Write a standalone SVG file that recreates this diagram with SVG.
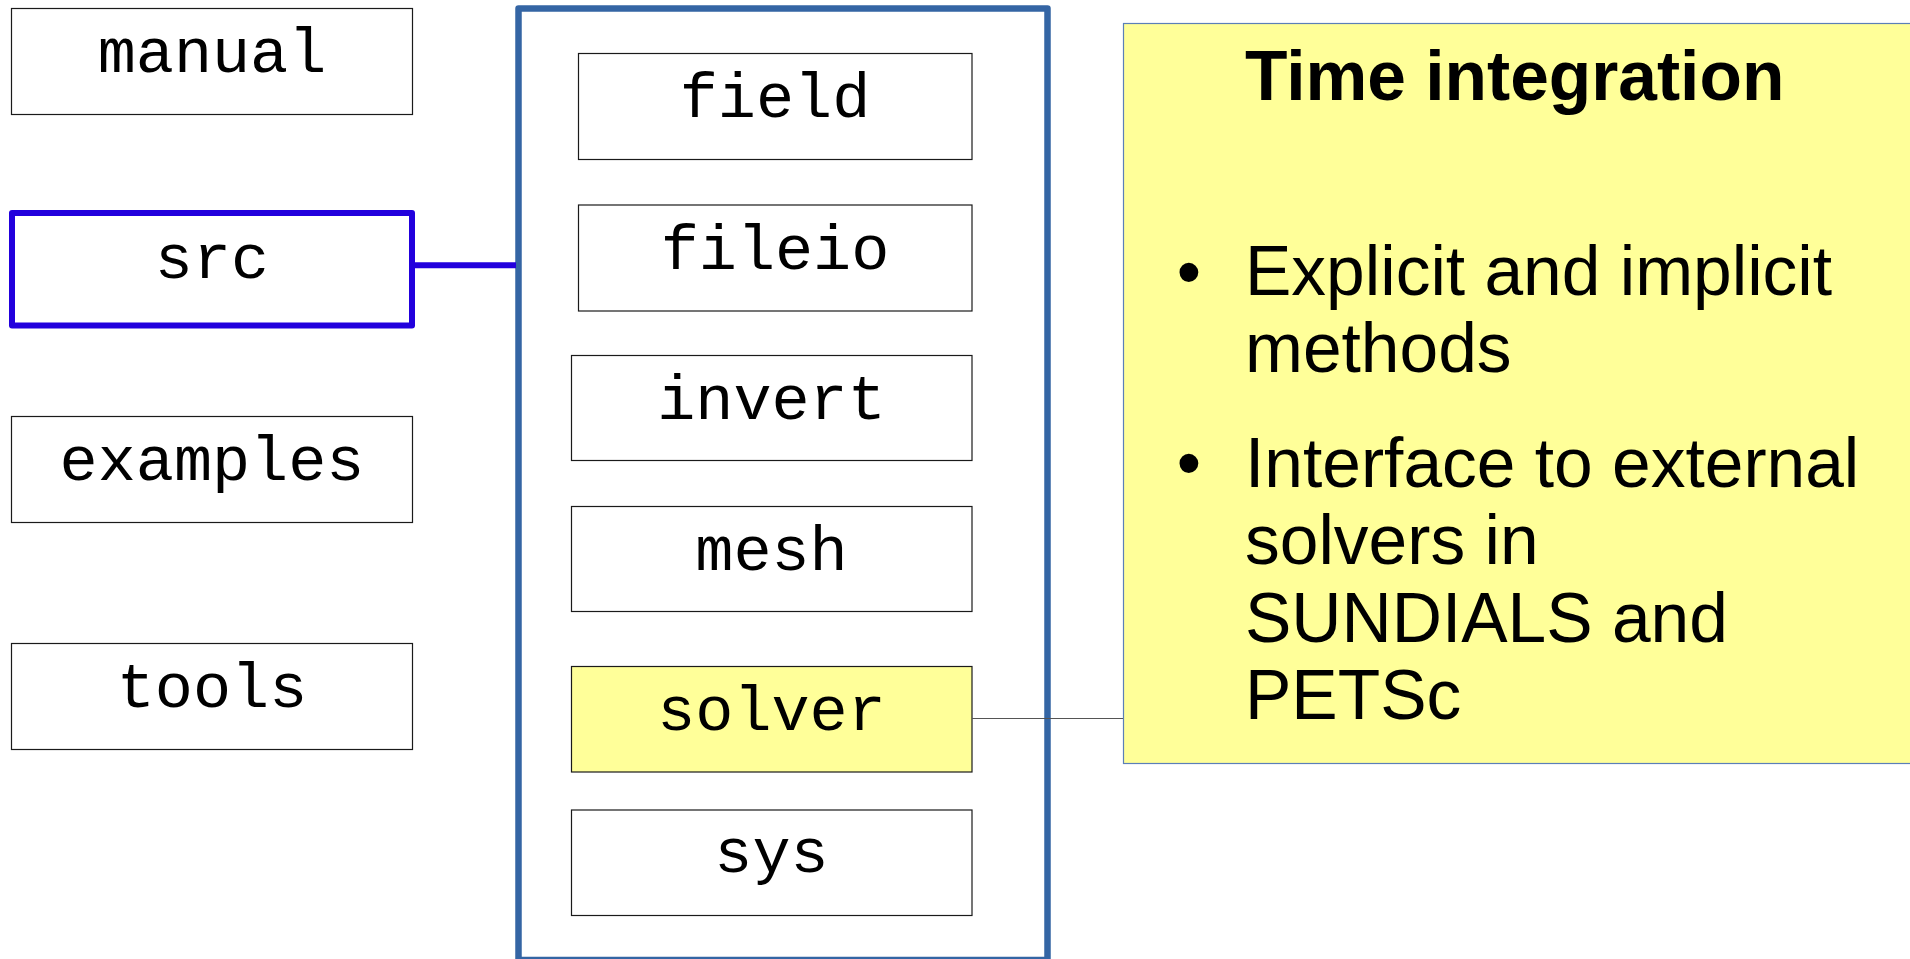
<svg xmlns="http://www.w3.org/2000/svg" width="1910" height="959" viewBox="0 0 1910 959">
  <style>
    .box { fill: #ffffff; stroke: #1a1a1a; stroke-width: 1.2; }
    .hl { fill: #ffff99; stroke: #1a1a1a; stroke-width: 1.2; }
    .mono { font-family: "Liberation Mono", "DejaVu Sans Mono", monospace; font-size: 63.5px; fill: #000000; text-anchor: middle; }
    .note { font-family: "Liberation Sans", Arial, sans-serif; font-size: 69.5px; fill: #000000; }
  </style>
  <rect width="1910" height="959" fill="#ffffff"/>

  <!-- top-level directories -->
  <g id="manual">
    <rect class="box" x="11.5" y="8.5" width="401" height="106"/>
    <text class="mono" x="212" y="72">manual</text>
  </g>
  <g id="src">
    <rect x="12" y="213" width="400" height="112.5" fill="#ffffff" stroke="#2200dd" stroke-width="6" stroke-linejoin="round"/>
    <text class="mono" x="212" y="278">src</text>
  </g>
  <g id="examples">
    <rect class="box" x="11.5" y="416.5" width="401" height="106"/>
    <text class="mono" x="212" y="480">examples</text>
  </g>
  <g id="tools">
    <rect class="box" x="11.5" y="643.5" width="401" height="106"/>
    <text class="mono" x="212" y="707">tools</text>
  </g>

  <!-- src contents -->
  <g id="src-contents">
    <rect x="518.5" y="8.5" width="529" height="951.5" fill="none" stroke="#3465a4" stroke-width="6.5" stroke-linejoin="round"/>
  </g>
  <g id="field">
    <rect class="box" x="578.5" y="53.5" width="393.5" height="106"/>
    <text class="mono" x="775" y="117">field</text>
  </g>
  <g id="fileio">
    <rect class="box" x="578.5" y="205" width="393.5" height="106"/>
    <text class="mono" x="775" y="268.5">fileio</text>
  </g>
  <g id="invert">
    <rect class="box" x="571.5" y="355.5" width="400.5" height="105"/>
    <text class="mono" x="771.5" y="419">invert</text>
  </g>
  <g id="mesh">
    <rect class="box" x="571.5" y="506.5" width="400.5" height="105"/>
    <text class="mono" x="771.5" y="570">mesh</text>
  </g>
  <g id="solver">
    <rect class="hl" x="571.5" y="666.5" width="400.5" height="105.5"/>
    <text class="mono" x="771.5" y="729.5">solver</text>
  </g>
  <g id="sys">
    <rect class="box" x="571.5" y="810" width="400.5" height="105.5"/>
    <text class="mono" x="771.5" y="872">sys</text>
  </g>

  <!-- description note -->
  <g id="time-integration">
    <rect x="1123.5" y="23.5" width="790" height="740" fill="#ffff99" stroke="#5b7fb8" stroke-width="1.2"/>
    <text class="note" x="1245" y="100" font-weight="bold">Time integration</text>
    <text class="note" x="1189" y="296" text-anchor="middle">•</text>
    <text class="note" x="1245" y="295">Explicit and implicit</text>
    <text class="note" x="1245" y="372">methods</text>
    <text class="note" x="1189" y="487" text-anchor="middle">•</text>
    <text class="note" x="1245" y="487">Interface to external</text>
    <text class="note" x="1245" y="564">solvers in</text>
    <text class="note" x="1245" y="641.5">SUNDIALS and</text>
    <text class="note" x="1245" y="718.5">PETSc</text>
  </g>

  <!-- connectors -->
  <g id="connectors">
    <line x1="415" y1="265.3" x2="516" y2="265.3" stroke="#2200dd" stroke-width="6"/>
    <line x1="972" y1="718.5" x2="1123" y2="718.5" stroke="#555555" stroke-width="1.2"/>
  </g>
</svg>
